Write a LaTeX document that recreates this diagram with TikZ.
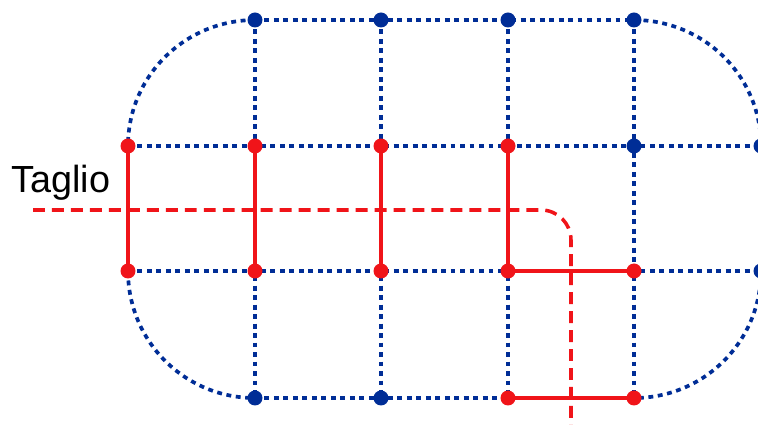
\documentclass[tikz,border=0pt]{standalone}
\usepackage{fontspec}
\setmainfont{Liberation Sans}
\usetikzlibrary{positioning}

\definecolor{gridblue}{RGB}{0,45,150}
\definecolor{cutred}{RGB}{240,20,25}

\begin{document}
\begin{tikzpicture}[
		x=0.02cm, y=-0.02cm,
		% --- ESTILOS ---
		bdot/.style={
			circle, 
			fill=gridblue, 
			inner sep=0pt, 
			minimum size=0.3cm
		},
		rdot/.style={
			circle, 
			fill=cutred, 
			inner sep=0pt, 
			minimum size=0.3cm
		},
		gridline/.style={
			draw=gridblue, 
			line width=2.1pt, 
			dash pattern=on 2.8pt off 2.6pt
		},
		bond/.style={
			draw=cutred, 
			line width=2pt
		},
		cutline/.style={
			draw=cutred, 
			line width=2pt, 
			dash pattern=on 6.8pt off 4pt,
			rounded corners=0.6cm
		}
		]
		
		\useasboundingbox (0,0) rectangle (758,425);
		
		% --- PUNTOS DE LA RED ---
		\foreach \x [count=\i] in {128,255,381,508,634,761}
		\foreach \y [count=\j] in {20,146,271,398}
		\coordinate (g\i\j) at (\x,\y);
		
		% --- LINEE TRATTEGGIATE ---
		\draw [gridline] (g21) -- (g51);
		\draw [gridline] (g12) -- (g62);
		\draw [gridline] (g13) -- (g63);
		\draw [gridline] (g24) -- (g54);
		\foreach \i in {2,3,4,5}
		\draw [gridline] (g\i1) -- (g\i4);
		\draw [gridline] (g62) -- (g63);
		
		% bordi arrotondati
		\draw [gridline] (g21) to[out=180, in=90] (g12);
		\draw [gridline] (g13) to[out=-90, in=180] (g24);
		\draw [gridline] (g51) to[out=0, in=90] (g62);
		\draw [gridline] (g63) to[out=-90, in=0] (g54);
		
		% --- LEGAMI ROSSI ---
		\foreach \i in {1,2,3,4}
		\draw [bond] (g\i2) -- (g\i3);
		\draw [bond] (g43) -- (g53);
		\draw [bond] (g44) -- (g54);
		
		% --- NODI ---
		\foreach \p in {21,31,41,51,52,62,63,24,34}
		\node (b\p) [bdot] at (g\p) {};
		\foreach \p in {12,22,32,42,13,23,33,43,53,44,54}
		\node (r\p) [rdot] at (g\p) {};
		
		% --- TAGLIO ---
		\coordinate (cutstart) at (33,210);
		\coordinate (cutend) at (571,430);
		\draw [cutline] (cutstart) -| (cutend);
		\node (taglio) [anchor=base west, inner sep=0pt, font=\fontsize{21.5}{24}\selectfont] at (11,193) {Taglio};
		
	\end{tikzpicture}
\end{document}
